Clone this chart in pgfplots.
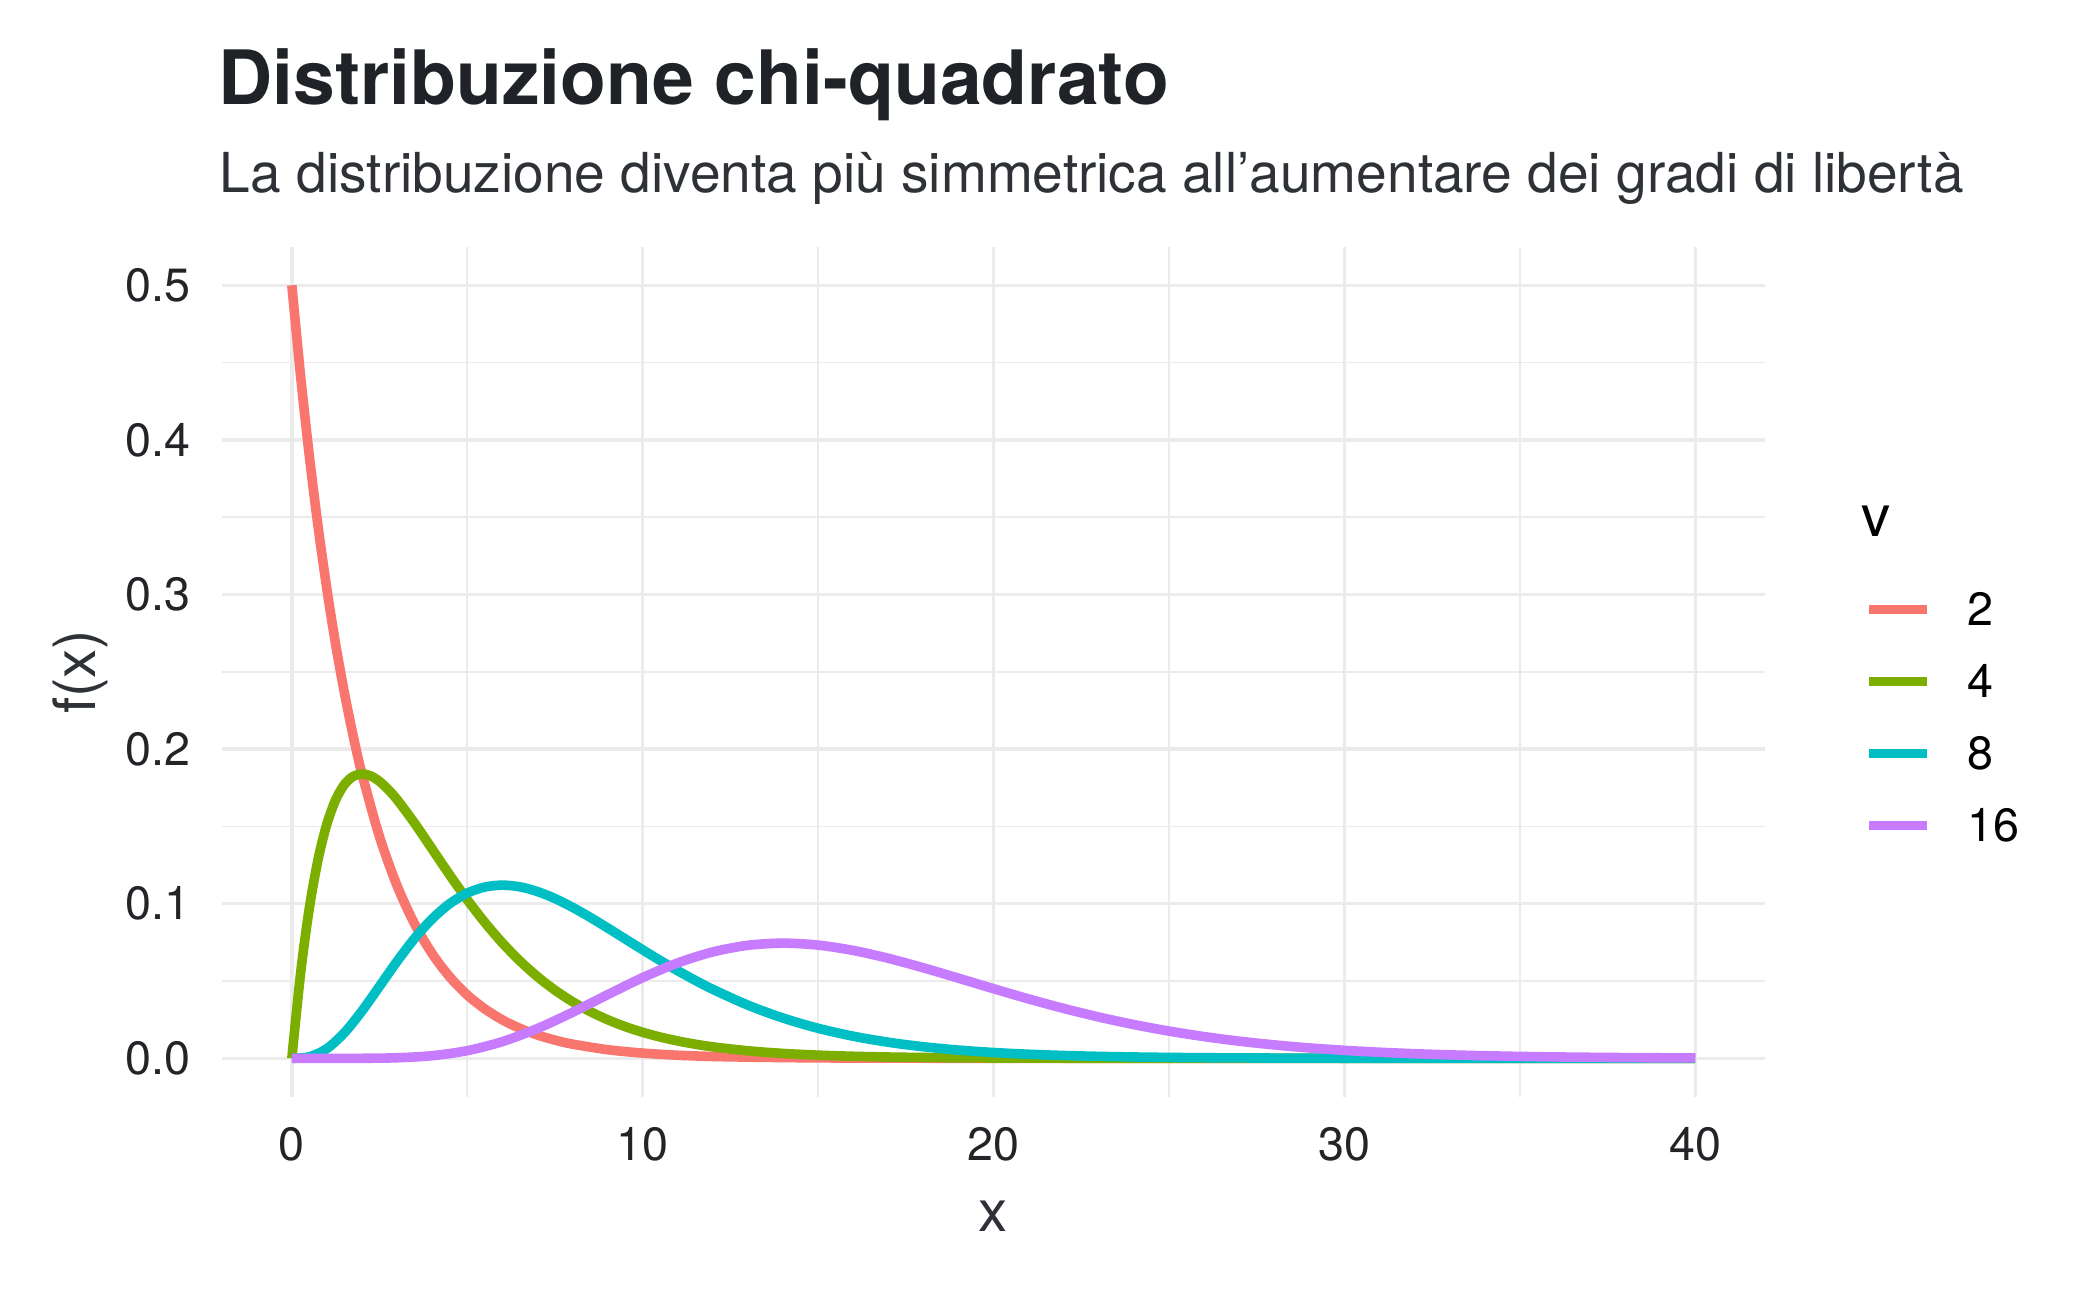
\documentclass[border=0pt]{standalone}
\usepackage{fontspec}
\setmainfont{TeX Gyre Heros}
\usepackage{pgfplots}
\pgfplotsset{compat=1.18}
\definecolor{cA}{HTML}{F8766D}
\definecolor{cB}{HTML}{7CAE00}
\definecolor{cC}{HTML}{00BFC4}
\definecolor{cD}{HTML}{C77CFF}
\definecolor{gridc}{HTML}{EBEBEB}
\definecolor{titlec}{HTML}{1F2226}
\definecolor{subc}{HTML}{2E3237}
\definecolor{tickc}{HTML}{222428}
\definecolor{axc}{HTML}{2E3237}

\pgfplotstableread{
x y
0 0.5
0.25 0.4412
0.5 0.3894
0.75 0.3436
1 0.3033
1.25 0.2676
1.5 0.2362
1.75 0.2084
2 0.1839
2.5 0.1433
3 0.1116
3.5 0.0869
4 0.0677
4.5 0.0527
5 0.0410
5.5 0.0320
6 0.0249
6.5 0.0194
7 0.0151
7.5 0.0118
8 0.0092
9 0.0056
10 0.0034
11 0.0020
12 0.0012
13 0.0008
14 0.0005
15 0.0003
16 0.0002
18 0.0001
20 0.0000
25 0
30 0
35 0
40 0
}\dfTwo

\pgfplotstableread{
x y
0 0
0.25 0.05516
0.5 0.09735
0.75 0.12887
1 0.15163
1.25 0.16727
1.5 0.17714
1.75 0.18238
2 0.18394
2.25 0.18266
2.5 0.17907
2.75 0.17379
3 0.16735
3.5 0.15205
4 0.13534
4.5 0.11857
5 0.10261
5.5 0.08790
6 0.07468
6.5 0.06301
7 0.05284
7.5 0.04410
8 0.03663
8.5 0.03031
9 0.02500
9.5 0.02055
10 0.01684
10.5 0.01378
11 0.01124
11.5 0.00915
12 0.00744
13 0.00489
14 0.00319
15 0.00207
16 0.00134
17 0.00086
18 0.00056
19 0.00036
20 0.00023
21 0.00015
22 0.00009
23 0.00006
24 0.00004
25 0.00002
30 0
35 0
40 0
}\dfFour

\pgfplotstableread{
x y
0 0
0.5 0.001014
1 0.006318
1.5 0.016607
2 0.030657
2.5 0.046632
3 0.062755
3.5 0.077611
4 0.090223
4.5 0.100046
5 0.106881
5.5 0.110793
6 0.112021
6.5 0.110920
7 0.107891
7.5 0.103350
8 0.097685
8.5 0.091249
9 0.084359
9.5 0.077271
10 0.070188
10.5 0.063284
11 0.056664
11.5 0.050427
12 0.044622
13 0.034406
14 0.026065
15 0.019444
16 0.014313
17 0.010413
18 0.007497
19 0.005348
20 0.003783
21 0.002656
22 0.001852
23 0.001284
24 0.000885
25 0.000607
26 0.000414
27 0.000281
28 0.000190
29 0.000128
30 0.000086
31 0.000058
32 0.000038
34 0.000016
36 0.000007
38 0.000003
40 0.000001
}\dfEight

\pgfplotstableread{
x y
0 0
1 0.0000005
2 0.0000365
3 0.000378
4 0.001719
5 0.004970
6 0.010802
7 0.019274
8 0.029771
9 0.041181
10 0.052223
11 0.061728
12 0.068845
13 0.073115
14 0.074502
15 0.073242
16 0.069793
17 0.064710
18 0.058558
19 0.051857
20 0.045040
21 0.038439
22 0.032289
23 0.026733
24 0.021841
25 0.017629
26 0.014071
27 0.011115
28 0.008696
29 0.006743
30 0.005185
31 0.003956
32 0.002997
33 0.002255
34 0.001685
35 0.001252
36 0.000925
37 0.000680
38 0.000497
39 0.000361
40 0.000262
}\dfSixteen

\begin{document}
\begin{tikzpicture}
\path[fill=white] (0,0) rectangle (504pt,311.28pt);
\node[anchor=base west, inner sep=0pt, text=titlec, font=\fontsize{18}{21}\selectfont\bfseries] at (52.3pt,286.1pt) {Distribuzione chi-quadrato};
\node[anchor=base west, inner sep=0pt, text=subc, font=\fontsize{13.22}{16}\selectfont] at (52.6pt,265pt) {La distribuzione diventa più simmetrica all’aumentare dei gradi di libertà};
\node[anchor=base west, inner sep=0pt, text=black, font=\fontsize{14}{17}\selectfont] at (446.6pt,182.4pt) {v};
\begin{axis}[
  at={(53.2pt,48pt)}, anchor=south west,
  scale only axis, width=370.5pt, height=204.1pt,
  xmin=-2, xmax=42, ymin=-0.025, ymax=0.525,
  xtick={0,10,20,30,40},
  ytick={0,0.1,0.2,0.3,0.4,0.5},
  minor xtick={5,15,25,35},
  minor ytick={0.05,0.15,0.25,0.35,0.45},
  grid=both,
  major grid style={color=gridc, line width=0.8pt},
  minor grid style={color=gridc, line width=0.4pt},
  axis line style={draw=none},
  major tick length=0pt, minor tick length=0pt,
  /pgf/number format/assume math mode=true,
  tick label style={font=\fontsize{11.2}{13}\selectfont, text=tickc, inner sep=0pt},
  xticklabel style={yshift=-7.2pt},
  yticklabel style={xshift=-7.2pt, /pgf/number format/.cd, fixed, fixed zerofill, precision=1},
  scaled y ticks=false,
  xlabel={x}, ylabel={f(x)},
  xlabel style={at={(axis description cs:0.5,-0.1587)}, anchor=base, inner sep=0pt, font=\fontsize{14}{17}\selectfont, text=axc},
  ylabel style={at={(axis description cs:-0.08205,0.5)}, anchor=base, inner sep=0pt, font=\fontsize{14}{17}\selectfont, text=axc},
  legend cell align=left,
  legend image code/.code={\draw[#1] (0pt,0pt) -- (14pt,0pt);},
  legend style={at={(1.0640,0.5931)}, anchor=north west, draw=none, fill=none,
    inner sep=0pt, outer sep=0pt, row sep=9.28pt, column sep=8.4pt,
    nodes={inner sep=0pt, text height=8pt, text depth=0pt, font=\fontsize{11.2}{13}\selectfont, text=black}},
]
\addplot[color=cA, line width=2.3pt, line join=round, smooth] table[x=x,y=y] {\dfTwo};
\addlegendentry{2}
\addplot[color=cB, line width=2.3pt, line join=round, smooth] table[x=x,y=y] {\dfFour};
\addlegendentry{4}
\addplot[color=cC, line width=2.3pt, line join=round, smooth] table[x=x,y=y] {\dfEight};
\addlegendentry{8}
\addplot[color=cD, line width=2.3pt, line join=round, smooth] table[x=x,y=y] {\dfSixteen};
\addlegendentry{16}
\end{axis}
\end{tikzpicture}
\end{document}
